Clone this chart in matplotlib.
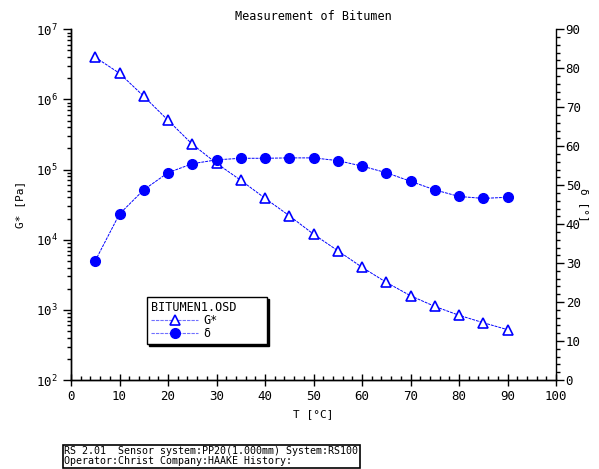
import matplotlib
matplotlib.use("Agg")
import matplotlib.pyplot as plt
from matplotlib.ticker import MultipleLocator, LogLocator, NullFormatter
from matplotlib.lines import Line2D

T = [5, 10, 15, 20, 25, 30, 35, 40, 45, 50, 55, 60, 65, 70, 75, 80, 85, 90]
G_star = [3.99e6, 2.36e6, 1.11e6, 5.05e5, 2.30e5, 1.23e5, 7.04e4, 3.90e4, 2.20e4,
          1.20e4, 6.98e3, 4.05e3, 2.47e3, 1.59e3, 1.12e3, 837, 656, 522]
delta = [30.6, 42.6, 48.8, 53.2, 55.5, 56.5, 56.9, 56.9, 57.0,
         57.0, 56.3, 54.9, 53.2, 51.0, 48.8, 47.1, 46.6, 46.9]

title = "Measurement of Bitumen"
xlabel = "T [°C]"
ylabel_left = "G* [Pa]"
ylabel_right = "δ [°]"
legend_title = "BITUMEN1.OSD"
labels = ["G*", "δ"]
footer = "RS 2.01  Sensor system:PP20(1.000mm) System:RS100\nOperator:Christ Company:HAAKE History:"

plt.rcParams['font.family'] = ['DejaVu Sans Mono', 'DejaVu Sans']
plt.rcParams['mathtext.fontset'] = 'dejavusans'
blue = '#0000ff'
lblue = '#7070ff'

fig = plt.figure(figsize=(5.99, 4.69), dpi=100)
ax = fig.add_axes([71/599, 89/469, 485/599, 350.7/469])
ax2 = ax.twinx()

ax.set_yscale('log')
ax.set_ylim(1e2, 1e7)
ax.set_xlim(0, 100)
ax2.set_ylim(0, 90)

ax.plot(T, G_star, linestyle=(0, (3, 1)), lw=0.7, color=blue, marker='^',
        markersize=6.5, markerfacecolor='white', markeredgecolor=blue, markeredgewidth=1.2)
ax2.plot(T, delta, linestyle=(0, (3, 1)), lw=0.7, color=blue, marker='o',
         markersize=7, markerfacecolor=blue, markeredgecolor=blue)

for a in (ax, ax2):
    a.spines['top'].set_visible(False)
    for s in a.spines.values():
        s.set_linewidth(1.0)
ax.spines['right'].set_visible(False)

ax.xaxis.set_major_locator(MultipleLocator(10))
ax.xaxis.set_minor_locator(MultipleLocator(2))
ax.tick_params(axis='x', which='major', direction='inout', length=8, width=1, labelsize=9)
ax.tick_params(axis='x', which='minor', direction='in', length=3, width=1)
ax.yaxis.set_major_locator(LogLocator(base=10, numticks=10))
ax.yaxis.set_minor_locator(LogLocator(base=10, subs=range(2, 10), numticks=10))
ax.yaxis.set_minor_formatter(NullFormatter())
ax.tick_params(axis='y', which='major', direction='out', length=6, width=1, labelsize=9)
ax.tick_params(axis='y', which='minor', direction='out', length=3, width=1)

ax2.yaxis.set_major_locator(MultipleLocator(10))
ax2.yaxis.set_minor_locator(MultipleLocator(2))
ax2.tick_params(axis='y', which='major', direction='out', length=6, width=1, labelsize=9, pad=1)
ax2.tick_params(axis='y', which='minor', direction='out', length=3, width=1)

ax.set_xlabel(xlabel, fontsize=8, labelpad=4)
ax.set_ylabel(ylabel_left, fontsize=8, labelpad=8)
ax2.set_ylabel(ylabel_right, fontsize=8, rotation=270, labelpad=6)
fig.text(313/599, 1 - 16/469, title, ha='center', va='center', fontsize=8.5)

h1 = Line2D([], [], linestyle=(0, (3, 1)), lw=0.8, color=lblue, marker='^', markersize=6.5,
            markerfacecolor='white', markeredgecolor=blue, markeredgewidth=1.2)
h2 = Line2D([], [], linestyle=(0, (3, 1)), lw=0.8, color=lblue, marker='o', markersize=7,
            markerfacecolor=blue, markeredgecolor=blue)
leg = ax.legend([h1, h2], labels, title=legend_title, loc='upper left', mode='expand',
                bbox_to_anchor=(147/599, 1 - 342/469, 120/599, 45/469),
                bbox_transform=fig.transFigure,
                fontsize=8.5, title_fontsize=8.5, alignment='left', handlelength=4.0,
                handletextpad=0.4, labelspacing=0.0, borderpad=0.35, fancybox=False,
                shadow={'color': 'black', 'alpha': 1.0, 'ox': 1.5, 'oy': -1.5},
                framealpha=1, edgecolor='black', borderaxespad=0)
leg.get_frame().set_linewidth(1.0)

fig.text(64/599, 1 - 456/469, footer, ha='left', va='center', fontsize=7.2, linespacing=1.0,
         bbox=dict(boxstyle='square,pad=0.15', facecolor='white', edgecolor='black', lw=1.2))

fig.savefig('out.png', dpi=100)
